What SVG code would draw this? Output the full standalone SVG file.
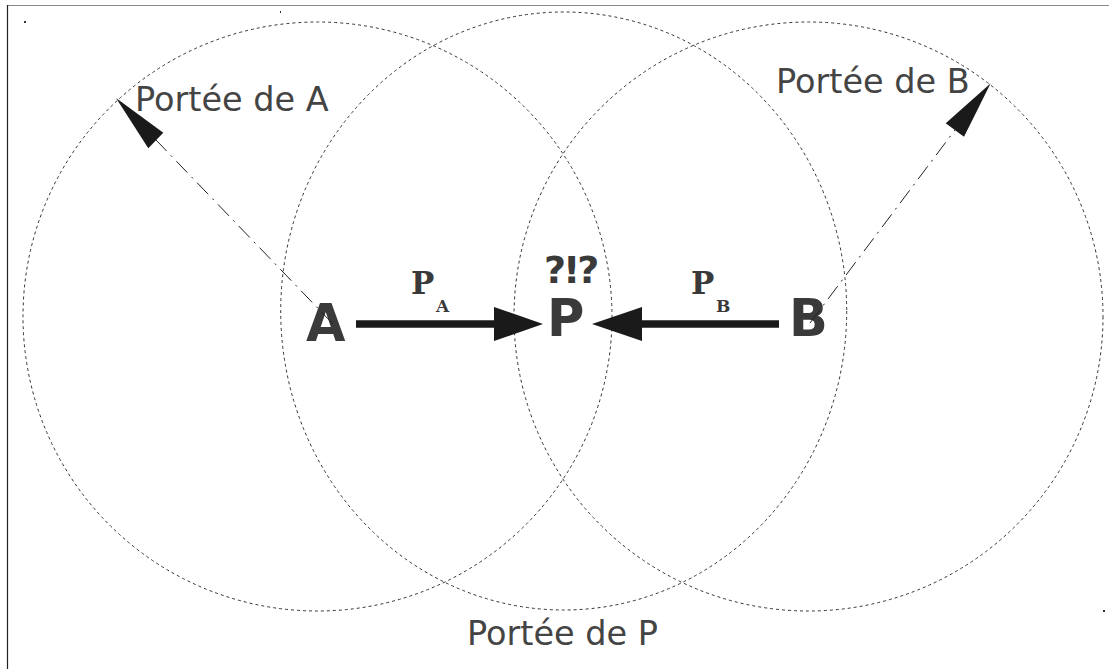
<svg xmlns="http://www.w3.org/2000/svg" width="1109" height="669" viewBox="0 0 1109 669">
<style>
.range{fill:none;stroke:#333;stroke-width:1;stroke-dasharray:3 3}
.lbl{font-family:"DejaVu Sans",sans-serif;font-size:33.5px;fill:#444}
.node{font-family:"DejaVu Sans",sans-serif;font-weight:bold;font-size:51px;fill:#3a3a3a}
.mono{font-family:"DejaVu Serif","Liberation Serif",serif;font-weight:bold;fill:#3a3a3a}
.vec{stroke:#1a1a1a;stroke-width:7.5;fill:none}
.ray{stroke:#222;stroke-width:1;fill:none;stroke-dasharray:16 6 2 6}
.head{fill:#1a1a1a}
</style>
<rect x="0" y="0" width="1109" height="669" fill="#fff"/>
<line x1="7" y1="5.5" x2="1109" y2="5.5" stroke="#888" stroke-width="1"/>
<line x1="7.5" y1="5" x2="7.5" y2="669" stroke="#222" stroke-width="1.2"/>
<rect x="24" y="21" width="2" height="2" fill="#333"/>
<rect x="280" y="11" width="1" height="2" fill="#333"/>
<rect x="1103" y="610" width="2" height="2" fill="#333"/>
<g id="range-A"><ellipse class="range" cx="317.5" cy="316.5" rx="294.5" ry="294.5"/><text class="lbl" x="135" y="111">Portée de A</text></g>
<g id="range-P"><ellipse class="range" cx="563.7" cy="311" rx="283" ry="299"/><text class="lbl" x="467" y="645">Portée de P</text></g>
<g id="range-B"><ellipse class="range" cx="808.5" cy="316.5" rx="294.5" ry="294.5"/><text class="lbl" x="776" y="93">Portée de B</text></g>
<g id="node-A"><text class="node" x="306" y="341">A</text></g>
<g id="node-P"><text class="node" x="547" y="336">P</text><text class="node" x="544" y="283" style="font-size:38px;letter-spacing:-3px">?!?</text></g>
<g id="node-B"><text class="node" x="789" y="336">B</text></g>
<g id="connectors">
<g id="vec-PA"><line class="vec" x1="356" y1="324" x2="496" y2="324"/><polygon class="head" points="494,307 543,324 494,341"/><text class="mono" x="411" y="294" style="font-size:31px">P</text><text class="mono" x="436" y="312" style="font-size:17px">A</text></g>
<g id="vec-PB"><line class="vec" x1="779" y1="324" x2="640" y2="324"/><polygon class="head" points="642,307 592,324 642,341"/><text class="mono" x="691" y="294" style="font-size:31px">P</text><text class="mono" x="716" y="312" style="font-size:17px">B</text></g>
<g id="ray-A"><line class="ray" x1="333" y1="324" x2="156" y2="140"/><polygon class="head" points="116,98 163.3,132.7 148.3,148.3"/></g>
<g id="ray-B"><line class="ray" x1="810" y1="323" x2="955" y2="130"/><polygon class="head" points="990.7,83.3 945.7,123.3 964,136.7"/></g>
</g>
</svg>
